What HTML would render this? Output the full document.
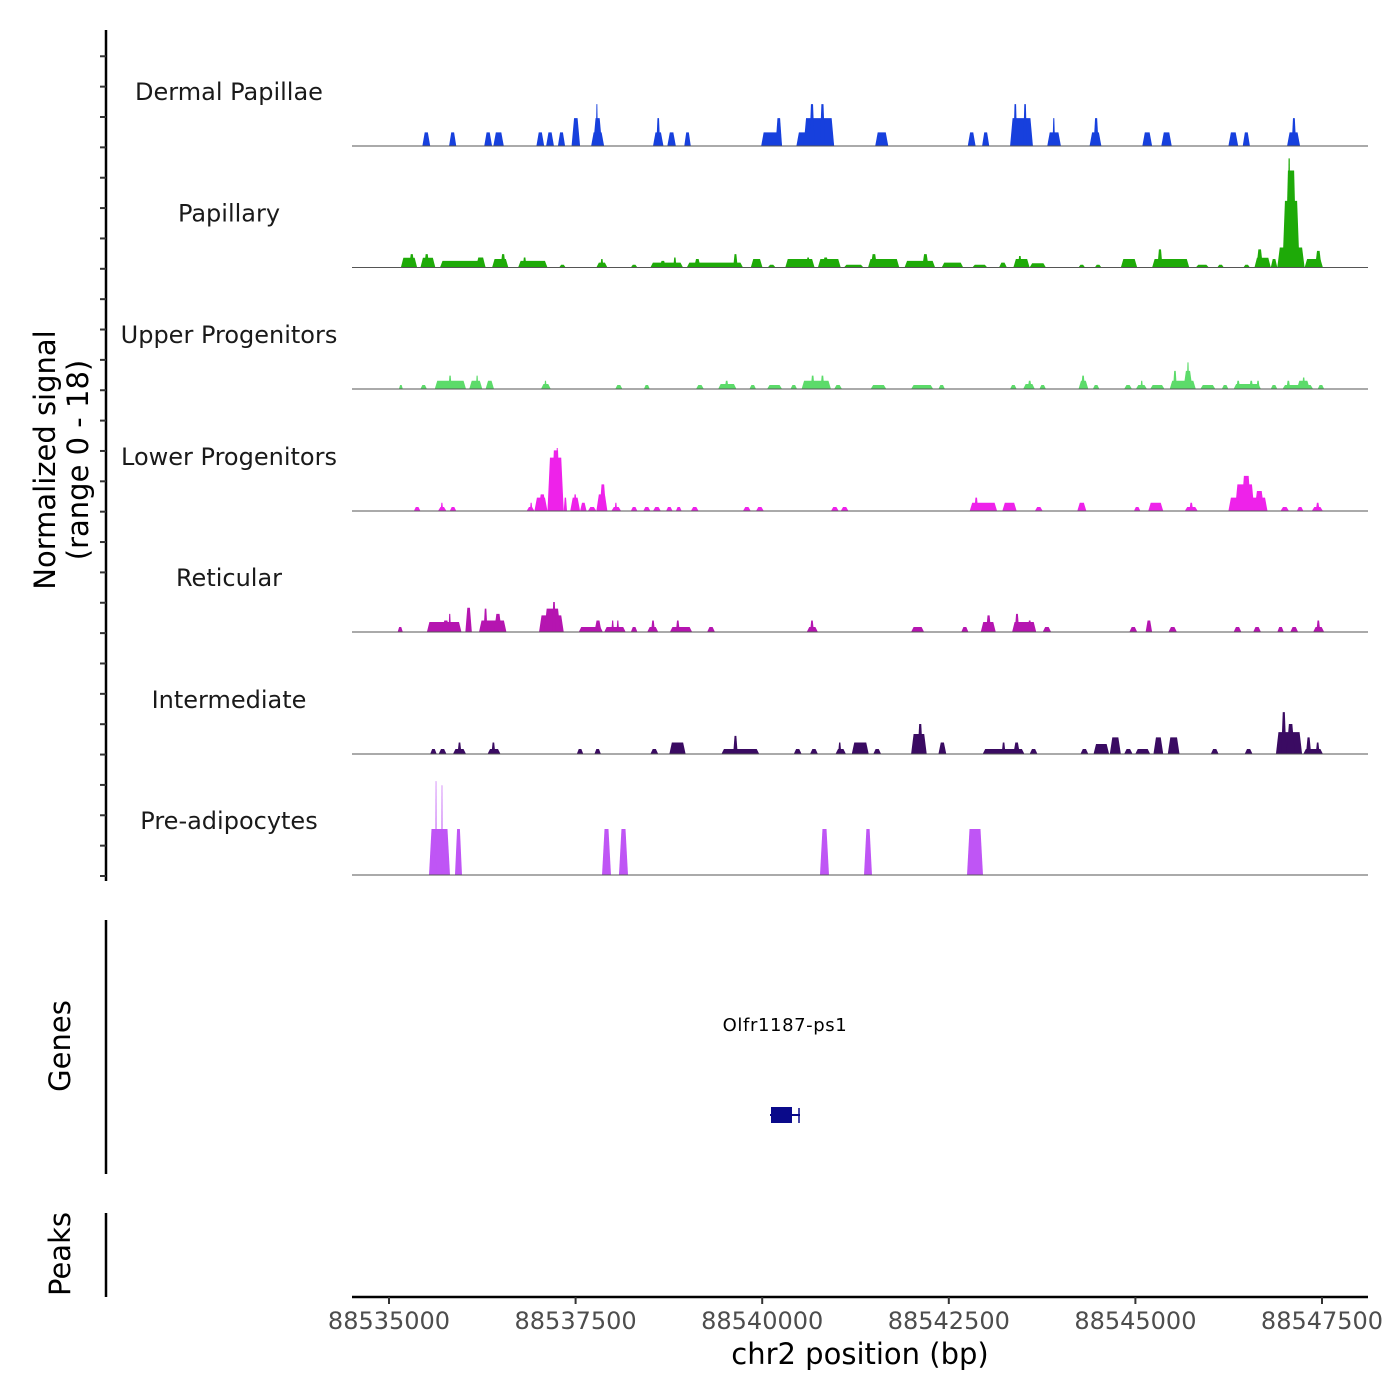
<!DOCTYPE html>
<html><head><meta charset="utf-8"><style>
html,body{margin:0;padding:0;background:#fff;}
svg{display:block;font-family:"DejaVu Sans","Liberation Sans",sans-serif;}
</style></head><body>
<svg id="chart" width="1400" height="1400" viewBox="0 0 1400 1400" xmlns="http://www.w3.org/2000/svg">
<rect width="1400" height="1400" fill="#fff"/>
<g id="tracks"></g>
<g id="axes"></g>
<text transform="translate(55,460) rotate(-90)" text-anchor="middle" font-size="29" fill="#000">Normalized signal</text>
<text transform="translate(88,460) rotate(-90)" text-anchor="middle" font-size="29" fill="#000">(range 0 - 18)</text>
<text transform="translate(70,1046) rotate(-90)" text-anchor="middle" font-size="29" fill="#000">Genes</text>
<text transform="translate(70,1254) rotate(-90)" text-anchor="middle" font-size="29" fill="#000">Peaks</text>
<line x1="106" y1="920" x2="106" y2="1174" stroke="#000" stroke-width="2.5"/>
<line x1="106" y1="1213" x2="106" y2="1297" stroke="#000" stroke-width="2.5"/>
<g>
<text x="785" y="1031" text-anchor="middle" font-size="18" fill="#000" letter-spacing="0.6">Olfr1187-ps1</text>
<line x1="770" y1="1115" x2="800" y2="1115" stroke="#0a0a8a" stroke-width="2"/>
<rect x="771" y="1107" width="21" height="16" fill="#0a0a8a"/>
<line x1="799" y1="1108" x2="799" y2="1123" stroke="#0a0a8a" stroke-width="1.5"/>
</g>
<text x="860" y="1364" text-anchor="middle" font-size="29" fill="#000">chr2 position (bp)</text>
</svg>
<script>
const REGION_START = 88535000;
const xTickValues = [88535000, 88537500, 88540000, 88542500, 88545000, 88547500];
const trackNames = ["Dermal Papillae","Papillary","Upper Progenitors","Lower Progenitors","Reticular","Intermediate","Pre-adipocytes"];
const trackColors = ["#1740dd","#1eaa08","#5cdb6a","#ee22ea","#b515b0","#3a0b62","#bf55f5"];
// blocks: [startOffsetBp, endOffsetBp, value]
const dermalPapillae = [[447,552,2.25],[805,901,2.25],[1276,1381,2.25],[1398,1538,2.25],[1975,2079,2.25],[2105,2210,2.25],[2263,2359,2.25],[2446,2560,4.6],[2708,2882,2.25],[2734,2856,4.6],[2770,2800,6.9],[3537,3677,2.25],[3581,3633,4.6],[3729,3843,2.25],[3956,4043,2.25],[4986,5266,2.25],[5178,5266,4.6],[5458,5964,2.25],[5554,5964,4.6],[5632,5702,6.9],[5772,5842,6.9],[6514,6689,2.25],[7754,7859,2.25],[7946,8042,2.25],[8321,8627,4.6],[8365,8417,6.9],[8496,8548,6.9],[8819,9002,2.25],[8889,8924,4.6],[9386,9544,2.25],[9439,9508,4.6],[10093,10224,2.25],[10347,10487,2.25],[11246,11377,2.25],[11438,11534,2.25],[12032,12206,2.25],[12093,12154,4.6]];
const papillary = [[159,377,1.6],[270,340,2.2],[421,621,1.6],[470,540,2.2],[683,1294,1.1],[1163,1294,1.65],[1381,1599,1.4],[1494,1564,2.2],[1730,2123,1.1],[1791,1843,1.65],[2280,2367,0.45],[2778,2926,0.8],[2830,2874,1.4],[3240,3328,0.45],[3502,3939,0.8],[3625,3712,1.1],[3808,3852,1.65],[3990,4742,0.8],[4087,4175,1.4],[4611,4672,2.2],[4847,5004,1.4],[5074,5179,0.45],[5309,5702,1.4],[5589,5641,1.65],[5746,6052,1.4],[5807,5894,1.65],[6095,6357,0.45],[6418,6837,1.4],[6453,6540,2.2],[6907,7317,1.1],[7143,7230,2.2],[7405,7693,0.8],[7815,8016,0.45],[8173,8278,0.8],[8365,8583,1.4],[8426,8478,1.9],[8583,8801,0.7],[9238,9325,0.45],[9456,9544,0.45],[9805,10024,1.4],[10224,10722,1.4],[10294,10364,3.0],[10809,10984,0.45],[11097,11185,0.45],[11447,11534,0.45],[11595,11814,1.6],[11621,11709,3.0],[11814,11901,1.4],[11901,12267,3.3],[11970,12200,11],[12010,12160,16],[12040,12080,18],[12267,12512,1.4],[12407,12494,2.75]];
const upperProgenitors = [[133,185,0.66],[421,508,0.66],[613,1032,1.37],[796,840,2.2],[1075,1250,1.37],[1163,1198,2.2],[1294,1407,1.37],[2036,2167,0.82],[2079,2114,1.37],[3031,3127,0.66],[3415,3494,0.66],[4113,4218,0.66],[4410,4655,0.82],[4498,4550,1.37],[4829,4917,0.66],[5065,5266,0.66],[5379,5467,0.66],[5528,5921,1.37],[5650,5702,2.2],[5781,5833,2.2],[5964,6069,0.66],[6453,6663,0.66],[6995,7291,0.66],[7361,7448,0.66],[8321,8409,0.66],[8496,8653,0.82],[8557,8610,1.37],[8714,8801,0.66],[9238,9369,1.37],[9273,9325,2.2],[9430,9517,0.66],[9849,9954,0.66],[10006,10155,0.66],[10067,10102,1.37],[10198,10390,0.66],[10460,10809,1.37],[10504,10556,3.0],[10643,10766,3.0],[10687,10722,4.4],[10870,11071,0.66],[11158,11246,0.66],[11316,11682,0.82],[11351,11403,1.37],[11526,11578,1.37],[11621,11665,1.37],[11813,11901,0.66],[11971,12381,0.66],[12023,12075,1.37],[12163,12337,1.37],[12233,12276,1.9],[12442,12529,0.66]];
const lowerProgenitors = [[333,421,0.66],[656,770,0.66],[691,726,1.37],[814,901,0.66],[1844,1948,0.66],[1887,1922,1.37],[1948,2123,2.2],[2001,2106,2.75],[2123,2341,8.8],[2175,2298,10.0],[2237,2271,10.4],[2341,2385,2.2],[2428,2560,2.2],[2472,2516,2.75],[2560,2647,1.37],[2664,2778,0.66],[2778,2926,2.75],[2821,2909,4.4],[2979,3110,0.66],[3022,3057,1.37],[3240,3328,0.66],[3406,3502,0.66],[3537,3642,0.66],[3712,3799,0.66],[3843,3921,0.66],[4044,4148,0.66],[4742,4847,0.66],[4917,5021,0.66],[5921,6025,0.66],[6052,6156,0.66],[7780,8147,1.37],[7841,7894,2.2],[8217,8409,1.37],[8653,8758,0.66],[9221,9343,1.37],[9980,10067,0.66],[10172,10373,1.37],[10661,10835,0.66],[10722,10774,1.37],[11246,11770,2.2],[11333,11595,4.4],[11420,11551,5.8],[11595,11726,3.3],[11944,12058,0.66],[12163,12250,0.66],[12363,12512,0.66],[12416,12468,1.37]];
const reticular = [[115,185,0.82],[508,971,1.65],[709,814,1.9],[796,831,3.0],[1023,1110,4.0],[1206,1573,1.9],[1267,1320,3.85],[1407,1512,3.0],[2010,2341,2.75],[2079,2298,3.85],[2184,2237,4.95],[2542,2865,0.82],[2752,2848,1.9],[2883,3171,0.82],[2979,3014,1.9],[3048,3083,1.9],[3240,3328,0.82],[3459,3607,0.82],[3511,3563,1.9],[3764,4061,0.82],[3843,3895,1.9],[4262,4367,0.82],[5597,5746,0.82],[5641,5693,1.9],[6995,7169,0.82],[7667,7763,0.82],[7928,8129,1.65],[7998,8068,2.75],[8348,8671,1.65],[8383,8444,3.0],[8557,8610,1.9],[8758,8871,0.82],[9919,10024,0.82],[10137,10224,1.9],[10443,10556,0.82],[11316,11420,0.82],[11578,11682,0.82],[11901,11988,0.82],[12075,12180,0.82],[12381,12529,0.82],[12424,12477,1.9]];
const intermediate = [[552,639,0.82],[665,770,0.82],[857,1032,0.82],[918,971,1.9],[1320,1494,0.82],[1372,1425,1.9],[2516,2603,0.82],[2752,2839,0.82],[3502,3607,0.82],[3756,3974,1.9],[4454,4960,0.82],[4611,4672,3.0],[5423,5528,0.82],[5641,5746,0.82],[5982,6122,0.82],[6017,6060,1.9],[6200,6427,1.9],[6488,6593,0.82],[6995,7204,3.3],[7082,7152,4.95],[7361,7466,1.9],[7954,8513,0.82],[8208,8260,1.9],[8365,8452,1.9],[8583,8688,0.82],[9264,9369,0.82],[9439,9648,1.65],[9657,9805,2.75],[9849,9962,0.82],[9998,10198,0.82],[10242,10373,2.75],[10434,10591,2.75],[11010,11115,0.82],[11464,11569,0.82],[11883,12233,3.6],[11953,12023,6.9],[12023,12136,4.95],[12250,12512,0.82],[12285,12355,2.75],[12416,12468,1.9]];
const preAdipocytes = [[536,817,7.6],[620,640,15.5],[700,720,14.8],[884,978,7.6],[2854,2974,7.6],[3081,3202,7.6],[5774,5895,7.6],[6364,6471,7.6],[7744,7958,7.6]];
const allTracks = [dermalPapillae,papillary,upperProgenitors,lowerProgenitors,reticular,intermediate,preAdipocytes];

const NS = "http://www.w3.org/2000/svg";
const PX_PER_BP = (1322 - 389) / 12500;
function xScale(pos){ return 389 + (pos - 88535000) * PX_PER_BP; }
const baselines = [146, 267.5, 389, 511, 632, 754, 875];
const PX_PER_UNIT = 6.06;
function yScale(v, t){ return baselines[t] - v * PX_PER_UNIT; }
function mk(tag, attrs, parent){ const e=document.createElementNS(NS,tag); for(const k in attrs) e.setAttribute(k,attrs[k]); parent.appendChild(e); return e; }

const tg = document.getElementById('tracks');
allTracks.forEach((blocks, t) => {
  const g = mk('g', {}, tg);
  
  
  blocks.forEach(b => {
    const x0 = xScale(REGION_START + b[0]), x1 = xScale(REGION_START + b[1]);
    const w = x1 - x0, tp = Math.min(2.5, w * 0.3);
    const yb = baselines[t], yt = yScale(b[2], t);
    const p = mk('polygon', {points: `${x0},${yb} ${x0+tp},${yt} ${x1-tp},${yt} ${x1},${yb}`, fill: trackColors[t]}, g);
    
    
  });
  const bl = mk('line', {x1:352, x2:1368, y1:baselines[t], y2:baselines[t], stroke:'#555', 'stroke-width':1}, g);
  
  
  const lab = mk('text', {x:229, y:baselines[t]-46, 'text-anchor':'middle', 'font-size':24, fill:'#1a1a1a'}, g);
  lab.textContent = trackNames[t];
  
  
});

const ag = document.getElementById('axes');
const yl = mk('line', {x1:106, x2:106, y1:30, y2:881, stroke:'#000','stroke-width':2.5}, ag);


for (let k = 0; k <= 28; k++) {
  const y = 876 - k * 30.36;
  if (y < 30) break;
  const tk = mk('line', {x1:100, x2:106, y1:y, y2:y, stroke:'#333','stroke-width':2}, ag);
  
  
}
const xl = mk('line', {x1:352, x2:1368, y1:1297, y2:1297, stroke:'#000','stroke-width':2.5}, ag);


xTickValues.forEach(v => {
  const x = xScale(v);
  const tk = mk('line', {x1:x, x2:x, y1:1297, y2:1304, stroke:'#333','stroke-width':2}, ag);
  
  
  const tl = mk('text', {x:x, y:1329, 'text-anchor':'middle', 'font-size':24, fill:'#4d4d4d'}, ag);
  tl.textContent = String(v);
  
  
});
</script>
</body></html>
